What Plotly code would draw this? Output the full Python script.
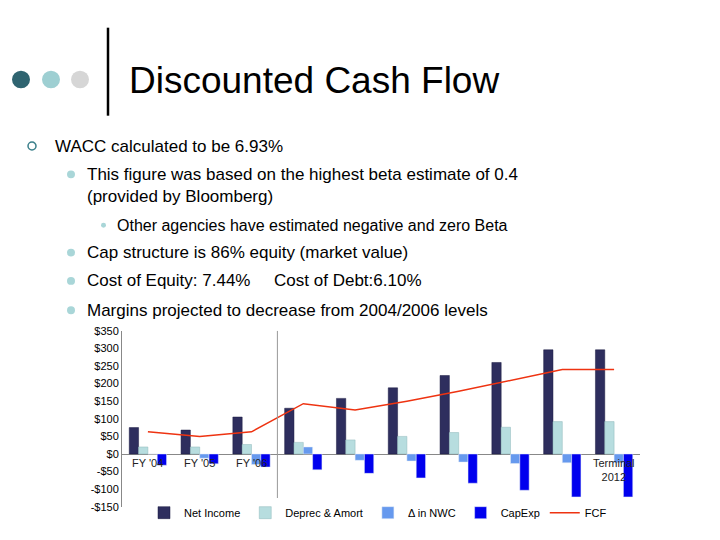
import plotly.graph_objects as go

categories = ["FY '04", "FY '05", "FY '06", "2007", "2008", "2009", "2010", "2011", "2012", "Terminal<br>2012"]
net_income = [75, 68, 105, 130, 158, 188, 223, 260, 296, 296]
deprec = [20, 20, 27, 33, 40, 50, 61, 76, 92, 92]
nwc = [0, -12, -30, 20, -18, -20, -23, -27, -25, -25]
capexp = [-32, -28, -37, -45, -55, -68, -83, -103, -122, -122]
fcf = [63, 50, 63, 143, 125, 150, 178, 208, 240, 240]
tick_vals = [-150, -100, -50, 0, 50, 100, 150, 200, 250, 300, 350]
tick_text = ["-$150", "-$100", "-$50", "$0", "$50", "$100", "$150", "$200", "$250", "$300", "$350"]

W, H = 720, 540
OFF = 8  # page offset of the figure in the browser
def px(x): return (x - OFF) / W
def py(y): return 1 - (y - OFF) / H

fig = go.Figure()
fig.add_bar(x=categories, y=net_income, name="Net Income", marker=dict(color="#2E2E5E", line=dict(color="#1a1a40", width=0.5)))
fig.add_bar(x=categories, y=deprec, name="Deprec & Amort", marker=dict(color="#B7DDDF", line=dict(color="#8fb8ba", width=0.5)))
fig.add_bar(x=categories, y=nwc, name="Δ in NWC", marker=dict(color="#6699EE"))
fig.add_bar(x=categories, y=capexp, name="CapExp", marker=dict(color="#0000EE"))
fig.add_scatter(x=categories, y=fcf, name="FCF", mode="lines", line=dict(color="#EE3311", width=1.5))

# category labels sit just under the zero line
for c in categories:
    fig.add_annotation(x=c, y=-3, text=c, showarrow=False, yanchor="top",
                       font=dict(size=11, color="#222"))

# separator between history and projection
fig.add_shape(type="line", xref="x", yref="y", x0=2.5, x1=2.5, y0=-150, y1=350,
              line=dict(color="#999", width=1))

# slide decoration
fig.add_shape(type="line", xref="paper", yref="paper", x0=px(108), x1=px(108), y0=py(22), y1=py(112),
              line=dict(color="black", width=2.5))
for cx, col in [(21, "#2F6470"), (51, "#9ECFD2"), (80, "#D6D6D6")]:
    fig.add_shape(type="circle", xref="paper", yref="paper", x0=px(cx - 9), x1=px(cx + 9),
                  y0=py(84), y1=py(66), fillcolor=col, line=dict(width=0))

fig.add_annotation(xref="paper", yref="paper", x=px(127), y=py(76), text="Discounted Cash Flow",
                   showarrow=False, xanchor="left", yanchor="middle", font=dict(size=37, color="black"))

bullets = [
    (1, 143, "WACC calculated to be 6.93%"),
    (2, 172, "This figure was based on the highest beta estimate of 0.4"),
    (0, 195, "(provided by Bloomberg)"),
    (3, 224, "Other agencies have estimated negative and zero Beta"),
    (2, 252, "Cap structure is 86% equity (market value)"),
    (2, 281, "Cost of Equity: 7.44%     Cost of Debt:6.10%"),
    (2, 311, "Margins projected to decrease from 2004/2006 levels"),
]
for lvl, y, t in bullets:
    if lvl == 1:
        tx = 53
        fig.add_shape(type="circle", xref="paper", yref="paper", x0=px(28), x1=px(36), y0=py(y + 4), y1=py(y - 4),
                      line=dict(color="#3A7F8A", width=1.5))
    elif lvl == 3:
        tx = 115
        fig.add_shape(type="circle", xref="paper", yref="paper", x0=px(101), x1=px(106), y0=py(y + 2.5), y1=py(y - 2.5),
                      fillcolor="#A9D6D8", line=dict(width=0))
    else:
        tx = 85
        if lvl == 2:
            fig.add_shape(type="circle", xref="paper", yref="paper", x0=px(67), x1=px(75), y0=py(y + 4), y1=py(y - 4),
                          fillcolor="#A9D6D8", line=dict(width=0))
    fig.add_annotation(xref="paper", yref="paper", x=px(tx), y=py(y), text=t, showarrow=False,
                       xanchor="left", yanchor="middle", font=dict(size=17 if lvl != 3 else 16, color="black"))

fig.update_layout(
    width=W, height=H, margin=dict(l=0, r=0, t=0, b=0),
    paper_bgcolor="white", plot_bgcolor="white",
    font=dict(family="Liberation Sans, Arial", color="black"),
    barmode="group", bargap=0.28, bargroupgap=0,
    xaxis=dict(domain=[px(122), px(640)], showticklabels=False, showgrid=False, zeroline=False,
               range=[-0.5, 9.5]),
    yaxis=dict(domain=[py(512), py(332)], range=[-150, 350], tickvals=tick_vals, ticktext=tick_text,
               tickfont=dict(size=11), showgrid=False, zeroline=True, zerolinecolor="#888",
               zerolinewidth=1, showline=True, linecolor="#888", ticks=""),
    legend=dict(orientation="h", x=px(378), y=py(518), xanchor="center", yanchor="middle",
                font=dict(size=11), traceorder="normal", itemwidth=30),
)

fig.write_html("out.html")
